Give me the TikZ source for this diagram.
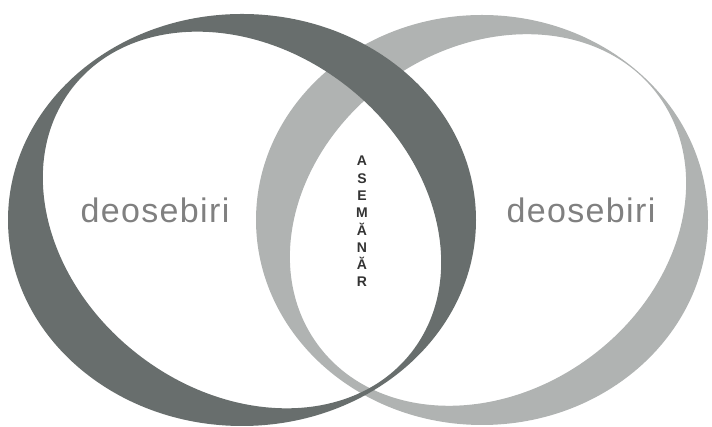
\documentclass[tikz,border=0pt]{standalone}
\usepackage{fontspec}
\setmainfont{Liberation Sans}
\newfontfamily\spacedsans[LetterSpace=4]{Liberation Sans}
\usepackage{xcolor}
\usetikzlibrary{positioning}
\definecolor{ringdark}{RGB}{104,110,109}
\definecolor{ringlight}{RGB}{176,179,178}
\definecolor{labelgray}{RGB}{128,128,128}

\begin{document}
\begin{tikzpicture}[x=1pt, y=1pt,
  darkring/.style={fill=ringdark, even odd rule},
  lightring/.style={fill=ringlight, even odd rule},
  difftext/.style={text=labelgray, font=\spacedsans\fontsize{34}{40}\selectfont, inner sep=0pt},
  sametext/.style={text=black!80, font=\bfseries\fontsize{14}{17.3}\selectfont, align=center, inner sep=0pt}]
\useasboundingbox (0,0) rectangle (712,427);
% right set first, the left one lies over it
\fill[lightring] (482,207) ellipse [x radius=226, y radius=205]
  (488,207) ellipse [x radius=211, y radius=171, rotate=36];
\fill[darkring] (242,207) ellipse [x radius=234, y radius=206]
  (242,207) ellipse [x radius=215, y radius=170, rotate=-38];
% labels
\node[difftext, anchor=base] (difleft) at (155,204) {deosebiri};
\node[difftext, anchor=base] (difright) at (581,204) {deosebiri};
\node[sametext, anchor=north] (common) at (362,271) {A\\S\\E\\M\\Ă\\N\\Ă\\R};
\end{tikzpicture}
\end{document}
